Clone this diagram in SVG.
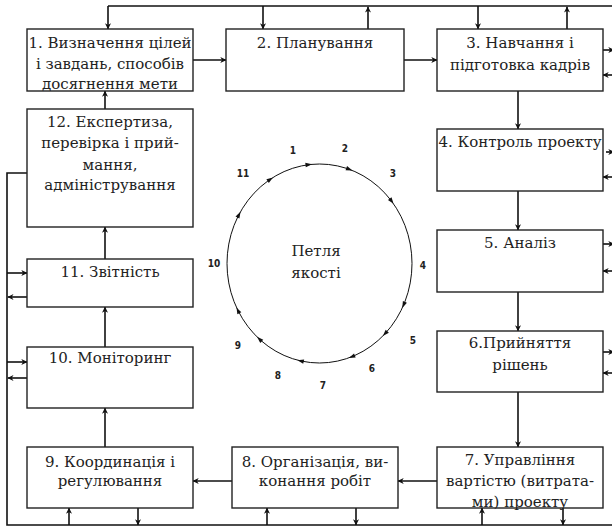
<svg xmlns="http://www.w3.org/2000/svg" width="612" height="526" viewBox="0 0 612 526">
  <style>
    .box { fill: #fff; stroke: #222; stroke-width: 1.4; }
    .lbl { font-family: "DejaVu Serif", "Liberation Serif", serif; font-size: 15px; fill: #222; text-anchor: middle; }
    .ln { fill: none; stroke: #111; stroke-width: 1.6; }
    .arr { fill: none; stroke: #111; stroke-width: 1.6; marker-end: url(#ah); }
    .num { font-family: "Liberation Sans Narrow", "DejaVu Sans Condensed", "Liberation Sans", sans-serif; font-size: 10px; font-weight: bold; fill: #222; text-anchor: middle; }
    .tip { fill: #111; }
  </style>
  <defs>
    <marker id="ah" viewBox="0 0 10 10" refX="9.5" refY="5" markerWidth="6" markerHeight="6" markerUnits="userSpaceOnUse" orient="auto">
      <path d="M0,0 L10,5 L0,10 L3,5 z" fill="#111"/>
    </marker>
  </defs>

  <rect width="612" height="526" fill="#fff"/>

  <!-- connectors -->
  <g id="connectors">
    <!-- outer feedback frame -->
    <path class="ln" d="M108,6 H612"/>
    <path class="ln" d="M27,173 H7 V525 H612"/>
    <!-- top bus taps -->
    <path class="arr" d="M108,6 V29"/>
    <path class="arr" d="M263,6 V29"/>
    <path class="arr" d="M368,29 V6.8"/>
    <path class="arr" d="M478,6 V29"/>
    <path class="arr" d="M567,29 V6.8"/>
    <!-- main chain -->
    <path class="arr" d="M193,60 H226"/>
    <path class="arr" d="M404,60 H437"/>
    <path class="arr" d="M518,91 V129"/>
    <path class="arr" d="M518,191 V230"/>
    <path class="arr" d="M518,292 V331"/>
    <path class="arr" d="M518,392 V447"/>
    <path class="arr" d="M437,481 H398"/>
    <path class="arr" d="M232,481 H193"/>
    <path class="arr" d="M105,447 V408"/>
    <path class="arr" d="M105,347 V307"/>
    <path class="arr" d="M105,259 V227"/>
    <path class="arr" d="M105,109 V91"/>
    <!-- right side outlets -->
    <path class="arr" d="M603,50 H614"/>
    <path class="arr" d="M612,75 H603"/>
    <path class="arr" d="M606,152 H614"/>
    <path class="arr" d="M612,177 H603"/>
    <path class="arr" d="M603,244 H614"/>
    <path class="arr" d="M612,271 H603"/>
    <path class="arr" d="M603,352 H614"/>
    <path class="arr" d="M612,373 H603"/>
    <!-- left side taps -->
    <path class="arr" d="M7,273 H27"/>
    <path class="arr" d="M27,297 H7.8"/>
    <path class="arr" d="M7,362 H27"/>
    <path class="arr" d="M27,378 H7.8"/>
    <!-- bottom bus taps -->
    <path class="arr" d="M69,525 V508"/>
    <path class="arr" d="M138,508 V525"/>
    <path class="arr" d="M267,525 V508"/>
    <path class="arr" d="M356,508 V525"/>
    <path class="arr" d="M482,525 V508"/>
    <path class="arr" d="M563,508 V525"/>
  </g>

  <!-- nodes -->
  <g id="n1">
    <rect class="box" x="27" y="29" width="166" height="62"/>
    <text class="lbl" x="110" y="48">1. Визначення цілей</text>
    <text class="lbl" x="110" y="69">і завдань, способів</text>
    <text class="lbl" x="110" y="89">досягнення мети</text>
  </g>
  <g id="n2">
    <rect class="box" x="226" y="29" width="178" height="62"/>
    <text class="lbl" x="315" y="48">2. Планування</text>
  </g>
  <g id="n3">
    <rect class="box" x="437" y="29" width="166" height="62"/>
    <text class="lbl" x="520" y="48">3. Навчання і</text>
    <text class="lbl" x="520" y="70">підготовка кадрів</text>
  </g>
  <g id="n4">
    <rect class="box" x="437" y="129" width="166" height="62"/>
    <text class="lbl" x="520" y="147">4. Контроль проекту</text>
  </g>
  <g id="n5">
    <rect class="box" x="437" y="230" width="166" height="62"/>
    <text class="lbl" x="520" y="248">5. Аналіз</text>
  </g>
  <g id="n6">
    <rect class="box" x="437" y="331" width="166" height="61"/>
    <text class="lbl" x="520" y="348">6.Прийняття</text>
    <text class="lbl" x="520" y="370">рішень</text>
  </g>
  <g id="n7">
    <rect class="box" x="437" y="447" width="166" height="61"/>
    <text class="lbl" x="520" y="465">7. Управління</text>
    <text class="lbl" x="520" y="486">вартістю (витрата-</text>
    <text class="lbl" x="520" y="507">ми) проекту</text>
  </g>
  <g id="n8">
    <rect class="box" x="232" y="447" width="166" height="61"/>
    <text class="lbl" x="315" y="467">8. Організація, ви-</text>
    <text class="lbl" x="315" y="486">конання робіт</text>
  </g>
  <g id="n9">
    <rect class="box" x="27" y="447" width="166" height="61"/>
    <text class="lbl" x="110" y="467">9. Координація і</text>
    <text class="lbl" x="110" y="486">регулювання</text>
  </g>
  <g id="n10">
    <rect class="box" x="27" y="347" width="166" height="61"/>
    <text class="lbl" x="110" y="363">10. Моніторинг</text>
  </g>
  <g id="n11">
    <rect class="box" x="27" y="259" width="166" height="48"/>
    <text class="lbl" x="110" y="277">11. Звітність</text>
  </g>
  <g id="n12">
    <rect class="box" x="27" y="109" width="166" height="118"/>
    <text class="lbl" x="110" y="127">12. Експертиза,</text>
    <text class="lbl" x="110" y="148">перевірка і прий-</text>
    <text class="lbl" x="110" y="170">мання,</text>
    <text class="lbl" x="110" y="190">адміністрування</text>
  </g>

  <!-- quality loop -->
  <g id="loop">
    <ellipse cx="319.5" cy="263.5" rx="92.5" ry="99.5" fill="none" stroke="#111" stroke-width="1"/>
    <g class="tip">
      <polygon points="-3.5,-2.2 3,0 -3.5,2.2" transform="translate(309,164.6) rotate(-7)"/>
      <polygon points="-3.5,-2.2 3,0 -3.5,2.2" transform="translate(349.6,169.4) rotate(20.3)"/>
      <polygon points="-3.5,-2.2 3,0 -3.5,2.2" transform="translate(391.8,201.4) rotate(53.4)"/>
      <polygon points="-3.5,-2.2 3,0 -3.5,2.2" transform="translate(403.5,305.2) rotate(113.3)"/>
      <polygon points="-3.5,-2.2 3,0 -3.5,2.2" transform="translate(384.9,333.9) rotate(132.9)"/>
      <polygon points="-3.5,-2.2 3,0 -3.5,2.2" transform="translate(351.6,356.8) rotate(158.3)"/>
      <polygon points="-3.5,-2.2 3,0 -3.5,2.2" transform="translate(300.3,360.8) rotate(192.9)"/>
      <polygon points="-3.5,-2.2 3,0 -3.5,2.2" transform="translate(259.2,338.9) rotate(222.8)"/>
      <polygon points="-3.5,-2.2 3,0 -3.5,2.2" transform="translate(237.8,310.2) rotate(243.7)"/>
      <polygon points="-3.5,-2.2 3,0 -3.5,2.2" transform="translate(239.1,214.4) rotate(-62.2)"/>
      <polygon points="-3.5,-2.2 3,0 -3.5,2.2" transform="translate(270.5,179.1) rotate(-33.9)"/>
    </g>
    <text class="lbl" x="316" y="256">Петля</text>
    <text class="lbl" x="316" y="278">якості</text>
    <text class="num" x="293" y="154">1</text>
    <text class="num" x="345" y="152">2</text>
    <text class="num" x="393" y="177">3</text>
    <text class="num" x="423" y="269">4</text>
    <text class="num" x="413" y="344">5</text>
    <text class="num" x="372" y="372">6</text>
    <text class="num" x="323" y="389">7</text>
    <text class="num" x="278" y="379">8</text>
    <text class="num" x="238" y="349">9</text>
    <text class="num" x="214" y="267">10</text>
    <text class="num" x="243" y="177">11</text>
  </g>
</svg>
